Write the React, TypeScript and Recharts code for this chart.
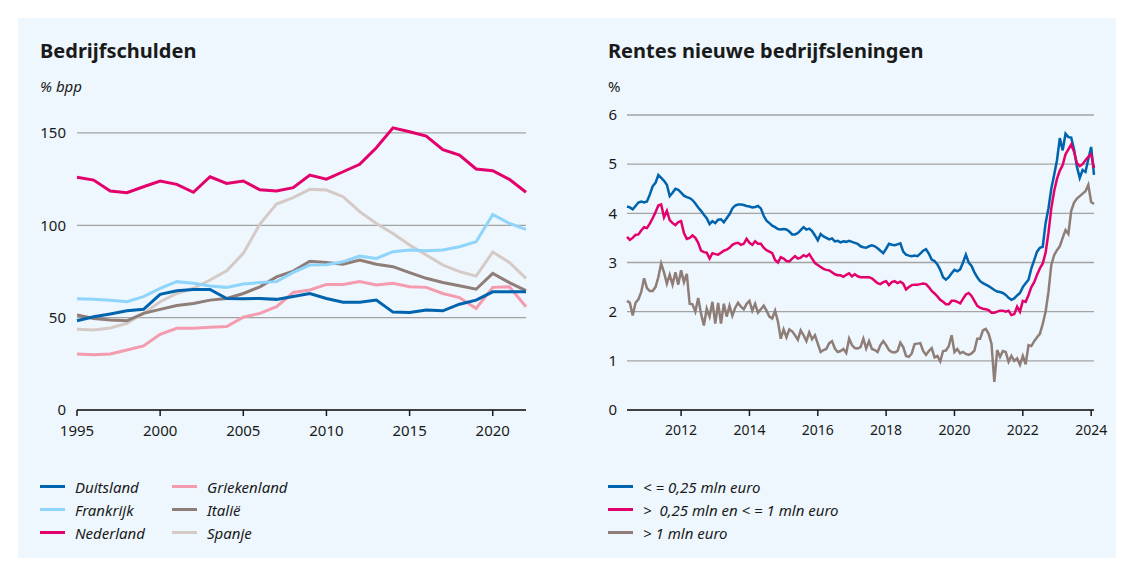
import { LineChart, Line, XAxis, YAxis, CartesianGrid } from "recharts"

// ---- Bedrijfschulden (% bpp), jaarlijks
const years = [
  1995, 1996, 1997, 1998, 1999, 2000, 2001, 2002, 2003, 2004, 2005, 2006, 2007, 2008,
  2009, 2010, 2011, 2012, 2013, 2014, 2015, 2016, 2017, 2018, 2019, 2020, 2021, 2022,
]
const duitsland = [
  48.3, 50.5, 52, 53.7, 54.5, 62.6, 64.6, 65.3, 65.3, 60.4,
  60.3, 60.4, 59.9, 61.5, 63.1, 60.4, 58.3, 58.3, 59.5, 53,
  52.8, 54.1, 53.7, 57.3, 59.5, 64, 64, 64,
]
const frankrijk = [
  60.3, 59.9, 59.4, 58.6, 61.4, 65.9, 69.5, 68.6, 67.2, 66.4,
  68.2, 69, 69.5, 74.5, 78.5, 78.6, 80.3, 83.3, 82.1, 85.7,
  86.6, 86.2, 86.6, 88.4, 91.1, 105.9, 101, 97.8,
]
const nederland = [
  126, 124.5, 118.6, 117.7, 120.9, 124, 122.2, 117.9, 126.3, 122.7,
  124, 119.2, 118.6, 120.4, 127.2, 125, 129, 133, 142, 152.8,
  150.7, 148.3, 141, 138, 130.5, 129.6, 124.9, 117.9,
]
const griekenland = [
  30.3, 29.9, 30.3, 32.5, 34.7, 41, 44.2, 44.2, 44.8, 45.2,
  50.2, 52.3, 55.9, 63.6, 65, 68, 68, 69.5, 67.7, 68.6,
  66.7, 66.4, 63.1, 60.9, 55, 66.4, 66.7, 55.9,
]
const italie = [
  51.4, 49.6, 48.7, 48.3, 52.3, 54.5, 56.6, 57.7, 59.5, 60.4,
  63.1, 66.7, 72.1, 75.2, 80.5, 79.8, 78.9, 81.2, 78.9, 77.6,
  74.4, 71.3, 69, 67.3, 65.4, 74, 69, 64.6,
]
const spanje = [
  43.7, 43.3, 44.4, 46.9, 52.3, 58.6, 63.1, 65.9, 70.4, 75.4,
  84.8, 100.7, 111.5, 115, 119.5, 119.1, 115.5, 107.4, 101, 95.6,
  89.3, 83.9, 78.5, 74.9, 72.5, 85.5, 79.9, 71.3,
]
const debtTicks = [0, 50, 100, 150]
const yearTicks = [1995, 2000, 2005, 2010, 2015, 2020]

// ---- Rentes nieuwe bedrijfsleningen (%), maandelijks vanaf juni 2010
const startYear = 2010
const startMonth = 6
const kleinTot025 = [
  4.14, 4.12, 4.08, 4.15, 4.22, 4.24, 4.22, // 2010
  4.24, 4.38, 4.55, 4.62, 4.78, 4.72, 4.66, 4.58, 4.35, 4.42, 4.5, 4.48, // 2011
  4.42, 4.36, 4.33, 4.31, 4.27, 4.2, 4.12, 4.05, 3.97, 3.9, 3.78, 3.84, // 2012
  3.8, 3.87, 3.88, 3.82, 3.9, 3.98, 4.1, 4.16, 4.18, 4.18, 4.17, 4.15, // 2013
  4.14, 4.12, 4.13, 4.15, 4.1, 3.95, 3.85, 3.8, 3.75, 3.72, 3.68, 3.67, // 2014
  3.68, 3.67, 3.63, 3.57, 3.57, 3.6, 3.66, 3.72, 3.67, 3.69, 3.64, 3.55, // 2015
  3.45, 3.58, 3.53, 3.5, 3.47, 3.49, 3.43, 3.44, 3.41, 3.43, 3.42, 3.44, // 2016
  3.42, 3.4, 3.38, 3.33, 3.31, 3.3, 3.33, 3.35, 3.33, 3.29, 3.24, 3.19, // 2017
  3.28, 3.38, 3.36, 3.35, 3.37, 3.39, 3.22, 3.16, 3.14, 3.13, 3.14, 3.13, // 2018
  3.18, 3.24, 3.27, 3.18, 3.06, 3.03, 2.96, 2.85, 2.7, 2.65, 2.7, 2.78, // 2019
  2.85, 2.82, 2.86, 3.0, 3.16, 3.0, 2.93, 2.8, 2.7, 2.62, 2.58, 2.55, // 2020
  2.52, 2.48, 2.44, 2.41, 2.4, 2.38, 2.34, 2.28, 2.24, 2.27, 2.33, 2.38, // 2021
  2.5, 2.58, 2.65, 2.88, 3.05, 3.22, 3.3, 3.32, 3.8, 4.1, 4.5, 4.78, // 2022
  5.08, 5.53, 5.28, 5.62, 5.55, 5.54, 5.3, 4.95, 4.72, 4.88, 4.84, 5.1, // 2023
  5.35, 4.78, // 2024
]
const middenTot1 = [
  3.52, 3.46, 3.5, 3.56, 3.57, 3.65, 3.72, // 2010
  3.7, 3.79, 3.9, 4.02, 4.16, 4.18, 3.92, 4.05, 3.86, 3.8, 3.76, 3.82, // 2011
  3.84, 3.6, 3.48, 3.5, 3.55, 3.5, 3.4, 3.24, 3.21, 3.2, 3.08, 3.19, // 2012
  3.17, 3.16, 3.2, 3.24, 3.26, 3.3, 3.36, 3.39, 3.4, 3.36, 3.38, 3.48, // 2013
  3.4, 3.36, 3.43, 3.38, 3.38, 3.3, 3.25, 3.22, 3.19, 3.05, 3.0, 3.11, // 2014
  3.08, 3.03, 3.02, 3.08, 3.13, 3.08, 3.1, 3.15, 3.12, 3.17, 3.08, 2.99, // 2015
  2.95, 2.91, 2.87, 2.85, 2.84, 2.8, 2.76, 2.74, 2.74, 2.71, 2.75, 2.78, // 2016
  2.72, 2.76, 2.72, 2.7, 2.7, 2.7, 2.7, 2.68, 2.63, 2.58, 2.56, 2.6, // 2017
  2.62, 2.54, 2.6, 2.62, 2.58, 2.61, 2.57, 2.45, 2.5, 2.54, 2.55, 2.55, // 2018
  2.56, 2.57, 2.56, 2.5, 2.42, 2.37, 2.31, 2.24, 2.2, 2.15, 2.15, 2.22, // 2019
  2.22, 2.2, 2.17, 2.26, 2.35, 2.38, 2.32, 2.22, 2.12, 2.08, 2.06, 2.05, // 2020
  2.03, 1.98, 1.98, 2.0, 2.02, 2.02, 2.0, 2.02, 1.93, 1.95, 2.1, 2.0, // 2021
  2.22, 2.2, 2.34, 2.5, 2.6, 2.75, 2.88, 2.98, 3.2, 3.6, 4.1, 4.45, // 2022
  4.7, 4.87, 4.98, 5.2, 5.3, 5.4, 5.25, 5.02, 4.96, 5.0, 5.08, 5.15, // 2023
  5.2, 4.92, // 2024
]
const groot = [
  2.22, 2.18, 1.92, 2.18, 2.25, 2.4, 2.68, // 2010
  2.48, 2.42, 2.42, 2.5, 2.7, 2.98, 2.8, 2.57, 2.75, 2.55, 2.8, 2.55, // 2011
  2.84, 2.6, 2.77, 2.16, 2.15, 2.0, 2.28, 1.96, 1.72, 2.06, 1.9, 2.2, // 2012
  1.76, 2.18, 1.76, 2.16, 1.9, 2.12, 1.92, 2.08, 2.18, 2.1, 2.05, 2.16, // 2013
  2.22, 2.02, 2.16, 1.98, 2.05, 2.12, 2.02, 1.9, 1.86, 2.02, 1.8, 1.45, // 2014
  1.64, 1.48, 1.64, 1.6, 1.52, 1.43, 1.62, 1.52, 1.4, 1.58, 1.44, 1.52, // 2015
  1.35, 1.18, 1.22, 1.24, 1.36, 1.4, 1.25, 1.18, 1.2, 1.24, 1.16, 1.45, // 2016
  1.32, 1.26, 1.25, 1.28, 1.45, 1.25, 1.4, 1.24, 1.22, 1.18, 1.32, 1.4, // 2017
  1.32, 1.22, 1.18, 1.17, 1.2, 1.37, 1.28, 1.1, 1.08, 1.15, 1.34, 1.35, // 2018
  1.36, 1.2, 1.12, 1.2, 1.26, 1.07, 1.1, 0.99, 1.2, 1.21, 1.3, 1.52, // 2019
  1.18, 1.24, 1.15, 1.18, 1.14, 1.12, 1.15, 1.21, 1.45, 1.45, 1.62, 1.65, // 2020
  1.55, 1.35, 0.57, 1.22, 1.08, 1.2, 1.18, 0.98, 1.1, 1.0, 1.05, 0.92, // 2021
  1.1, 0.93, 1.32, 1.3, 1.4, 1.48, 1.55, 1.75, 2.0, 2.4, 2.95, 3.15, // 2022
  3.25, 3.33, 3.5, 3.66, 3.58, 4.05, 4.22, 4.3, 4.35, 4.4, 4.45, 4.58, // 2023
  4.23, 4.19, // 2024
]
const rateTicks = [0, 1, 2, 3, 4, 5, 6]
const rateYearTicks = [2012, 2014, 2016, 2018, 2020, 2022, 2024]

const debtData = years.map((year, i) => ({
  year,
  duitsland: duitsland[i],
  frankrijk: frankrijk[i],
  nederland: nederland[i],
  griekenland: griekenland[i],
  italie: italie[i],
  spanje: spanje[i],
}))

const rateData = kleinTot025.map((v, i) => ({
  t: startYear + (startMonth - 1 + i) / 12,
  klein: v,
  midden: middenTot1[i],
  groot: groot[i],
}))

const FONT = "'Noto Sans', sans-serif"
const INK = "#1a1a1a"
const GRID = "#a3a3a3"
const tickStyle = { fill: INK, fontSize: 15, fontFamily: FONT }

const C = {
  darkBlue: "#0063ad",
  lightBlue: "#8fd4fb",
  magenta: "#e4006c",
  pink: "#f49bae",
  brown: "#8f7d77",
  beige: "#d6cac7",
}

const debtSeries = [
  { key: "spanje", label: "Spanje", color: C.beige },
  { key: "griekenland", label: "Griekenland", color: C.pink },
  { key: "italie", label: "Italië", color: C.brown },
  { key: "frankrijk", label: "Frankrijk", color: C.lightBlue },
  { key: "duitsland", label: "Duitsland", color: C.darkBlue },
  { key: "nederland", label: "Nederland", color: C.magenta },
]

const leftLegend = [
  [
    { label: "Duitsland", color: C.darkBlue },
    { label: "Frankrijk", color: C.lightBlue },
    { label: "Nederland", color: C.magenta },
  ],
  [
    { label: "Griekenland", color: C.pink },
    { label: "Italië", color: C.brown },
    { label: "Spanje", color: C.beige },
  ],
]
const rightLegend = [
  { label: "< = 0,25 mln euro", color: C.darkBlue },
  { label: ">  0,25 mln en < = 1 mln euro", color: C.magenta },
  { label: "> 1 mln euro", color: C.brown },
]

function LegendItem({ label, color }: { label: string; color: string }) {
  return (
    <div style={{ display: "flex", alignItems: "center", height: 23 }}>
      <span style={{ width: 25, height: 3, background: color, marginRight: 10 }} />
      <span style={{ fontStyle: "italic", fontSize: 15, color: INK, whiteSpace: "pre" }}>{label}</span>
    </div>
  )
}

const abs = (left: number, top: number): React.CSSProperties => ({
  position: "absolute",
  left,
  top,
})

export default function App() {
  return (
    <div
      style={{
        position: "absolute",
        left: 0,
        top: 0,
        width: 1134,
        height: 574,
        background: "#ffffff",
        fontFamily: FONT,
        overflow: "hidden",
      }}
    >
      <div style={{ ...abs(18, 18), width: 1098, height: 540, background: "#edf7fd" }} />

      <div style={{ ...abs(40, 41), fontSize: 20, lineHeight: "20px", fontWeight: 700, color: INK }}>
        Bedrijfschulden
      </div>
      <div style={{ ...abs(40, 79), fontSize: 15, lineHeight: "15px", fontStyle: "italic", color: INK }}>
        % bpp
      </div>
      <div style={{ ...abs(608, 41), fontSize: 20, lineHeight: "20px", fontWeight: 700, color: INK }}>
        Rentes nieuwe bedrijfsleningen
      </div>
      <div style={{ ...abs(608, 79), fontSize: 15, lineHeight: "15px", color: INK }}>%</div>

      <div style={abs(0, 0)}>
        <LineChart
          width={560}
          height={460}
          data={debtData}
          margin={{ top: 114.5, right: 34, bottom: 10, left: 0 }}
        >
          <CartesianGrid vertical={false} stroke={GRID} strokeWidth={1.3} horizontalValues={debtTicks} />
          <XAxis
            dataKey="year"
            type="number"
            domain={[1995, 2022]}
            ticks={yearTicks}
            tick={tickStyle}
            axisLine={{ stroke: INK, strokeWidth: 1.5 }}
            tickLine={{ stroke: INK, strokeWidth: 1.5 }}
            tickSize={6}
            tickMargin={9}
            height={40}
          />
          <YAxis
            type="number"
            domain={[0, 160]}
            ticks={debtTicks}
            tick={tickStyle}
            axisLine={false}
            tickLine={false}
            tickSize={0}
            tickMargin={11}
            width={77}
          />
          {debtSeries.map((s) => (
            <Line
              key={s.key}
              type="linear"
              dataKey={s.key}
              stroke={s.color}
              strokeWidth={3}
              dot={false}
              isAnimationActive={false}
            />
          ))}
        </LineChart>
      </div>

      <div style={abs(560, 0)}>
        <LineChart
          width={560}
          height={460}
          data={rateData}
          margin={{ top: 115, right: 26, bottom: 10, left: 0 }}
        >
          <CartesianGrid vertical={false} stroke={GRID} strokeWidth={1.3} horizontalValues={rateTicks} />
          <XAxis
            dataKey="t"
            type="number"
            domain={[startYear + (startMonth - 1) / 12, rateData[rateData.length - 1].t]}
            ticks={rateYearTicks}
            tick={{ ...tickStyle, fontSize: 14 }}
            axisLine={{ stroke: INK, strokeWidth: 1.5 }}
            tickLine={{ stroke: INK, strokeWidth: 1.5 }}
            tickSize={6}
            tickMargin={9}
            height={40}
          />
          <YAxis
            type="number"
            domain={[0, 6]}
            ticks={rateTicks}
            tick={tickStyle}
            axisLine={false}
            tickLine={false}
            tickSize={0}
            tickMargin={10}
            width={67}
          />
          <Line type="linear" dataKey="groot" stroke={C.brown} strokeWidth={2.5} dot={false} isAnimationActive={false} />
          <Line type="linear" dataKey="klein" stroke={C.darkBlue} strokeWidth={2.5} dot={false} isAnimationActive={false} />
          <Line type="linear" dataKey="midden" stroke={C.magenta} strokeWidth={2.5} dot={false} isAnimationActive={false} />
        </LineChart>
      </div>

      <div style={{ ...abs(40, 475), display: "flex" }}>
        {leftLegend.map((col, ci) => (
          <div key={ci} style={{ width: 132 }}>
            {col.map((it) => (
              <LegendItem key={it.label} {...it} />
            ))}
          </div>
        ))}
      </div>
      <div style={abs(608, 475)}>
        {rightLegend.map((it) => (
          <LegendItem key={it.label} {...it} />
        ))}
      </div>
    </div>
  )
}
